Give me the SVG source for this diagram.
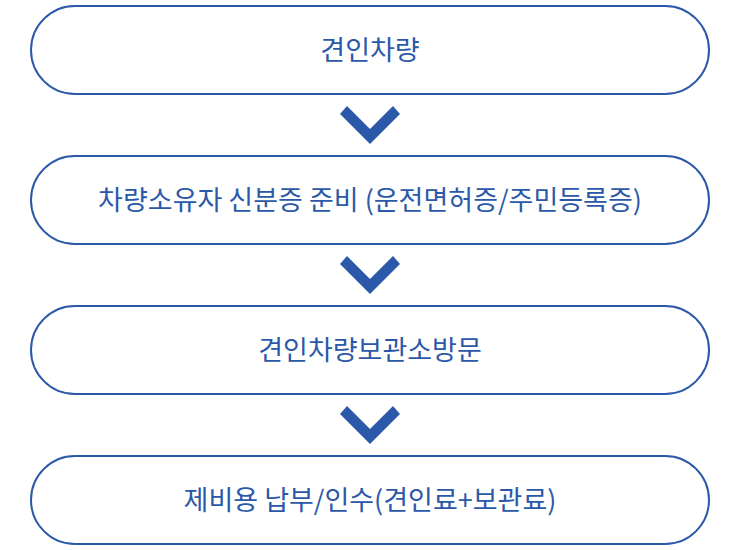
<svg xmlns="http://www.w3.org/2000/svg" width="740" height="550" viewBox="0 0 740 550">
<style>
.box{fill:#ffffff;stroke:#2b58a8;stroke-width:2}
.lbl{font-family:"Noto Sans CJK KR","Noto Sans",sans-serif;font-size:27px;font-weight:400;fill:#2b58a8;text-anchor:middle}
.chev{fill:#2b58a8}
</style>
<defs>
<polygon id="chevron" class="chev" points="340,114 347,106 370,129 393,106 400,114 370,144"/>
</defs>
<rect width="740" height="550" fill="#ffffff"/>
<g id="connectors">
<use href="#chevron"/>
<use href="#chevron" transform="translate(0,150)"/>
<use href="#chevron" transform="translate(0,300)"/>
</g>
<g id="node1">
<rect class="box" x="31" y="6" width="678" height="88" rx="44"/>
<text class="lbl" x="370" y="60">견인차량</text>
</g>
<g id="node2">
<rect class="box" x="31" y="156" width="678" height="88" rx="44"/>
<text class="lbl" x="370" y="210">차량소유자 신분증 준비 (운전면허증/주민등록증)</text>
</g>
<g id="node3">
<rect class="box" x="31" y="306" width="678" height="88" rx="44"/>
<text class="lbl" x="370" y="360">견인차량보관소방문</text>
</g>
<g id="node4">
<rect class="box" x="31" y="456" width="678" height="88" rx="44"/>
<text class="lbl" x="370" y="510">제비용 납부/인수(견인료+보관료)</text>
</g>
</svg>
